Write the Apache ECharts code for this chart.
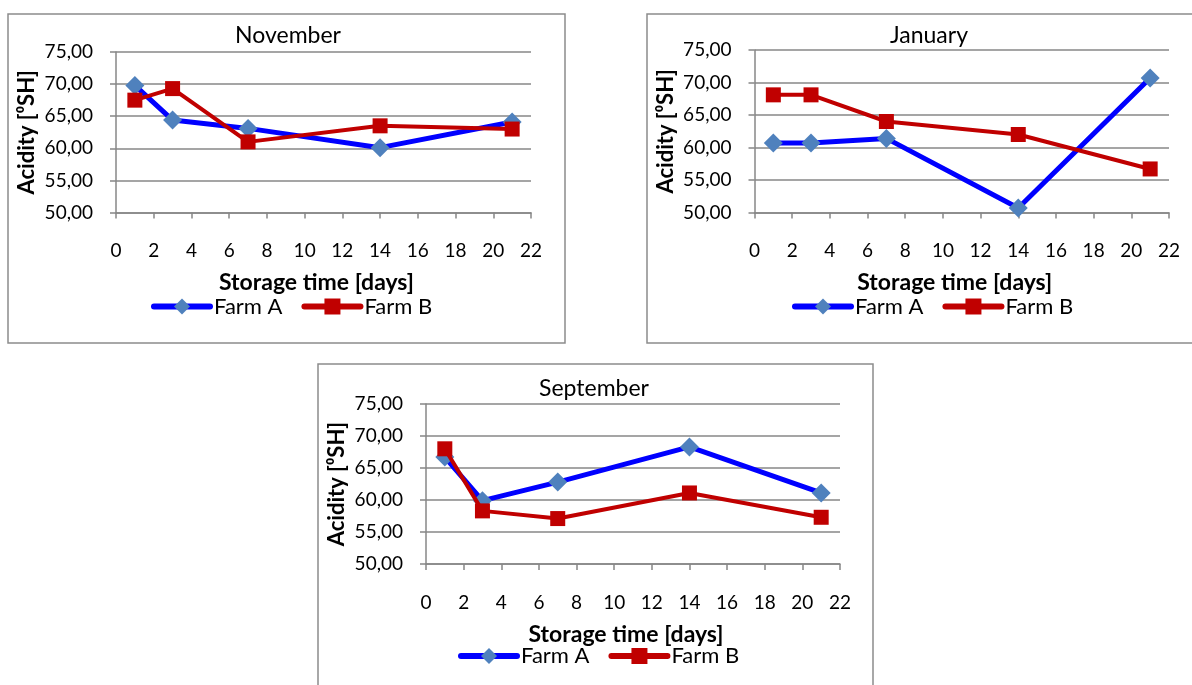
<!DOCTYPE html>
<html>
<head>
<meta charset="utf-8">
<script src="https://cdn.jsdelivr.net/npm/echarts@6/dist/echarts.min.js"></script>
<style>
  html, body { margin: 0; padding: 0; background: #ffffff; }
  #chart { width: 1192px; height: 685px; }
</style>
</head>
<body>
<div id="chart"></div>
<script>
// Storage days at which acidity was measured
const days = [1, 3, 7, 14, 21];
const farmNames = ['Farm A', 'Farm B'];
const monthNames = ['November', 'January', 'September'];

// Acidity [°SH] per month and farm
const novemberFarmA = [69.8, 64.4, 63.1, 60.1, 64.1];
const novemberFarmB = [67.5, 69.3, 61.0, 63.5, 63.0];
const januaryFarmA = [60.7, 60.7, 61.4, 50.7, 70.7];
const januaryFarmB = [68.1, 68.1, 64.0, 62.0, 56.7];
const septemberFarmA = [66.7, 59.9, 62.8, 68.3, 61.1];
const septemberFarmB = [68.0, 58.3, 57.1, 61.1, 57.3];

// Axis ticks
const acidityTicks = [50, 55, 60, 65, 70, 75];
const dayTicks = [0, 2, 4, 6, 8, 10, 12, 14, 16, 18, 20, 22];

const monthData = [
  [novemberFarmA, novemberFarmB],
  [januaryFarmA, januaryFarmB],
  [septemberFarmA, septemberFarmB]
];

// Panel layout: outer frame, plot area, title and legend placement
const panels = [
  { frame: [8, 14, 557, 329], grid: [116, 52, 415, 160.5], title: [288, 36], legend: [151, 305.5] },
  { frame: [647, 14, 600, 329], grid: [754.5, 50, 414.5, 162.5], title: [929, 36], legend: [792, 305.5] },
  { frame: [318, 364, 555, 400], grid: [426, 404, 414, 160], title: [594, 389], legend: [458, 655] }
];

const FONT = 'Lato, "Open Sans", sans-serif';
const GRID_GRAY = '#878787';
const LINE_COLORS = ['#0000ff', '#c00000'];
const MARKER_COLORS = ['#4f81bd', '#c00000'];
const MARKERS = ['diamond', 'rect'];
const MARKER_SIZES = [19, 15];
const LINE_WIDTHS = [5, 4];
const LEGEND_ICON_HEIGHT = 20;

const fmtAcidity = v => v.toFixed(2).replace('.', ',');

const grids = [], xAxes = [], yAxes = [], series = [], legends = [], graphics = [];

panels.forEach((p, i) => {
  graphics.push({
    type: 'rect', silent: true, z: 0,
    shape: { x: p.frame[0], y: p.frame[1], width: p.frame[2], height: p.frame[3] },
    style: { fill: '#ffffff', stroke: '#8c8c8c', lineWidth: 1.5 }
  });
  graphics.push({
    type: 'text', silent: true, z: 10,
    x: p.title[0], y: p.title[1],
    style: { text: monthNames[i], font: '23px ' + FONT, fill: '#000', align: 'center', verticalAlign: 'middle' }
  });

  grids.push({ left: p.grid[0], top: p.grid[1], width: p.grid[2], height: p.grid[3], containLabel: false });

  xAxes.push({
    type: 'value', gridIndex: i,
    min: dayTicks[0], max: dayTicks[dayTicks.length - 1], interval: dayTicks[1] - dayTicks[0],
    name: 'Storage time [days]', nameLocation: 'middle', nameGap: 59,
    nameTextStyle: { fontFamily: FONT, fontWeight: 'bold', fontSize: 23, color: '#000', padding: [0, 14, 0, 0] },
    axisLine: { onZero: false, lineStyle: { color: GRID_GRAY, width: 1.5 } },
    axisTick: { show: true, inside: false, length: 6, lineStyle: { color: GRID_GRAY, width: 1.5 } },
    axisLabel: { fontFamily: FONT, fontSize: 19, color: '#000', margin: 29 },
    splitLine: { show: false }
  });

  yAxes.push({
    type: 'value', gridIndex: i,
    min: acidityTicks[0], max: acidityTicks[acidityTicks.length - 1], interval: acidityTicks[1] - acidityTicks[0],
    name: 'Acidity [\u2070SH]', nameLocation: 'middle', nameGap: 78,
    nameTextStyle: { fontFamily: FONT, fontWeight: 'bold', fontSize: 22, color: '#000' },
    axisLine: { show: true, lineStyle: { color: GRID_GRAY, width: 1.5 } },
    axisTick: { show: true, inside: false, length: 6, lineStyle: { color: GRID_GRAY, width: 1.5 } },
    axisLabel: { fontFamily: FONT, fontSize: 19, color: '#000', margin: 23, formatter: fmtAcidity },
    splitLine: { show: true, lineStyle: { color: GRID_GRAY, width: 1.5 } }
  });

  farmNames.forEach((name, k) => {
    series.push({
      type: 'line', name: name,
      xAxisIndex: i, yAxisIndex: i,
      data: days.map((d, j) => [d, monthData[i][k][j]]),
      symbol: MARKERS[k], symbolSize: MARKER_SIZES[k],
      showAllSymbol: true,
      lineStyle: { color: LINE_COLORS[k], width: LINE_WIDTHS[k], cap: 'round', join: 'round' },
      itemStyle: { color: MARKER_COLORS[k], borderWidth: 0 },
      emphasis: { disabled: true },
      animation: false,
      z: 3 + k
    });
  });

  legends.push({
    left: p.legend[0], top: p.legend[1] - LEGEND_ICON_HEIGHT / 2, padding: 0,
    orient: 'horizontal', itemGap: 19, itemWidth: 56, itemHeight: LEGEND_ICON_HEIGHT,
    data: farmNames,
    selectedMode: false,
    lineStyle: { width: 6, cap: 'round' },
    textStyle: { fontFamily: FONT, fontSize: 22, color: '#000', padding: [0, 0, 0, -1] }
  });
});

const chart = echarts.init(document.getElementById('chart'), null, { renderer: 'canvas' });
chart.setOption({
  backgroundColor: '#ffffff',
  animation: false,
  graphic: graphics,
  grid: grids,
  xAxis: xAxes,
  yAxis: yAxes,
  legend: legends,
  series: series
});
</script>
</body>
</html>
